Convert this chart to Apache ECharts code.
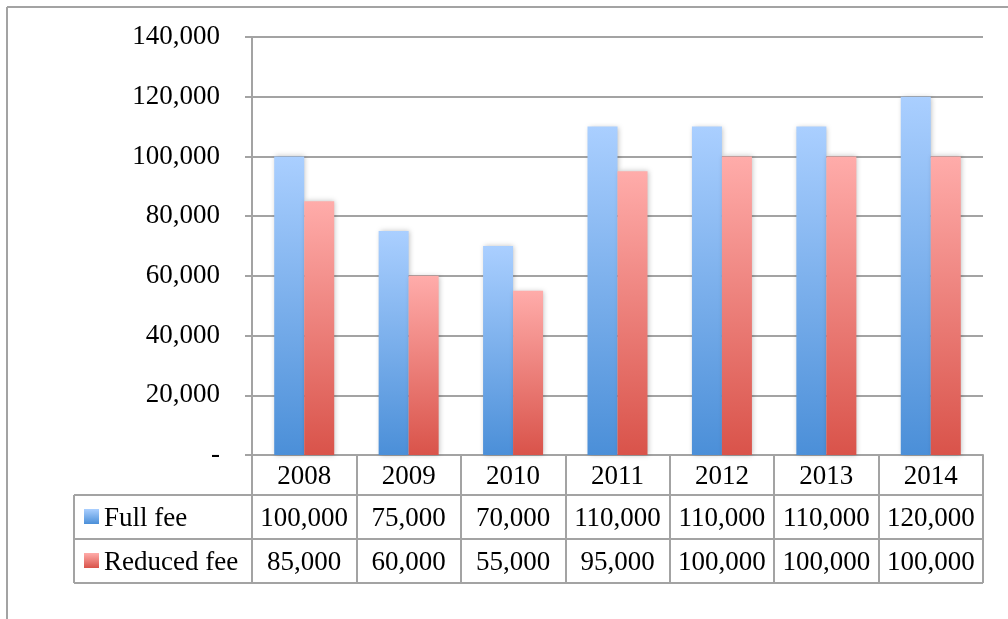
<!DOCTYPE html>
<html>
<head>
<meta charset="utf-8">
<style>
  html, body { margin: 0; padding: 0; background: #fff; }
  #chart { width: 1008px; height: 619px; }
</style>
<script src="https://cdn.jsdelivr.net/npm/echarts@6/dist/echarts.min.js"></script>
</head>
<body>
<div id="chart"></div>
<script>
// data
var years = ['2008', '2009', '2010', '2011', '2012', '2013', '2014']
var seriesNames = ['Full fee', 'Reduced fee']
var fullFee = [100000, 75000, 70000, 110000, 110000, 110000, 120000]
var reducedFee = [85000, 60000, 55000, 95000, 100000, 100000, 100000]

var FONT = 'Liberation Serif'
var FS = 27
var LINE = '#a3a3a3'

// layout of the plot and the data table under it
var gridLeft = 252
var gridRight = 25
var gridTop = 37
var axisY = 455
var headH = 40
var rowH = 44
var tableLeft = 74

function fmt(v) {
  return v.toLocaleString('en-US')
}

function grad(top, bottom) {
  return new echarts.graphic.LinearGradient(0, 0, 0, 1, [
    { offset: 0, color: top },
    { offset: 1, color: bottom }
  ])
}

var blue = grad('#aacfff', '#4b8fd8')
var red = grad('#ffacaa', '#d9534a')

var chart = echarts.init(document.getElementById('chart'))

var tableRight = 1008 - gridRight
var row1 = axisY + headH
var row2 = row1 + rowH
var row3 = row2 + rowH

var graphics = [
  // outer frame (top and left only visible)
  { type: 'line', shape: { x1: 7, y1: 7, x2: 1008, y2: 7 }, style: { stroke: LINE, lineWidth: 2 } },
  { type: 'line', shape: { x1: 7, y1: 7, x2: 7, y2: 619 }, style: { stroke: LINE, lineWidth: 2 } },
  // table lines
  { type: 'line', shape: { x1: tableLeft, y1: row1, x2: tableRight, y2: row1 }, style: { stroke: LINE, lineWidth: 2 } },
  { type: 'line', shape: { x1: tableLeft, y1: row2, x2: tableRight, y2: row2 }, style: { stroke: LINE, lineWidth: 2 } },
  { type: 'line', shape: { x1: tableLeft, y1: row3, x2: tableRight, y2: row3 }, style: { stroke: LINE, lineWidth: 2 } },
  { type: 'line', shape: { x1: tableLeft, y1: row1, x2: tableLeft, y2: row3 }, style: { stroke: LINE, lineWidth: 2 } }
]

var keys = [blue, red]
seriesNames.forEach(function(name, i) {
  var cy = row1 + rowH * i + rowH / 2
  graphics.push({
    type: 'rect',
    shape: { x: 84, y: cy - 8, width: 15, height: 15 },
    style: { fill: keys[i] }
  })
  graphics.push({
    type: 'text',
    x: 104,
    y: cy + 2,
    style: {
      text: name,
      font: FS + 'px "' + FONT + '"',
      fill: '#000',
      verticalAlign: 'middle'
    }
  })
})

chart.setOption({
  animation: false,
  grid: {
    left: gridLeft,
    right: gridRight,
    top: gridTop,
    bottom: 619 - axisY,
    containLabel: false
  },
  graphic: graphics,
  xAxis: {
    type: 'category',
    data: years,
    axisLine: { lineStyle: { color: LINE, width: 2 } },
    axisTick: { show: true, length: headH + rowH * 2, lineStyle: { color: LINE, width: 2 } },
    axisLabel: {
      interval: 0,
      margin: 2,
      formatter: function(val, idx) {
        return '{y|' + val + '}\n{v|' + fmt(fullFee[idx]) + '}\n{v|' + fmt(reducedFee[idx]) + '}'
      },
      rich: {
        y: { fontFamily: FONT, fontSize: FS, color: '#000', lineHeight: headH, height: headH },
        v: { fontFamily: FONT, fontSize: FS, color: '#000', lineHeight: rowH, height: rowH }
      }
    }
  },
  yAxis: {
    type: 'value',
    min: 0,
    max: 140000,
    interval: 20000,
    axisLine: { show: true, lineStyle: { color: LINE, width: 2 } },
    axisTick: { show: true, length: 7, lineStyle: { color: LINE, width: 2 } },
    splitLine: { lineStyle: { color: LINE, width: 2 } },
    axisLabel: {
      margin: 32,
      fontFamily: FONT,
      fontSize: FS,
      color: '#000',
      padding: [5, 0, 0, 0],
      formatter: function(v) {
        return v === 0 ? '-' : fmt(v)
      }
    }
  },
  series: [
    {
      name: seriesNames[0],
      type: 'bar',
      data: fullFee,
      barWidth: 30,
      barGap: '0%',
      itemStyle: {
        color: blue,
        shadowBlur: 5,
        shadowColor: 'rgba(0,0,0,0.25)',
        shadowOffsetX: 1
      }
    },
    {
      name: seriesNames[1],
      type: 'bar',
      data: reducedFee,
      barWidth: 30,
      barGap: '0%',
      itemStyle: {
        color: red,
        shadowBlur: 5,
        shadowColor: 'rgba(0,0,0,0.25)',
        shadowOffsetX: 1
      }
    }
  ]
})
</script>
</body>
</html>
